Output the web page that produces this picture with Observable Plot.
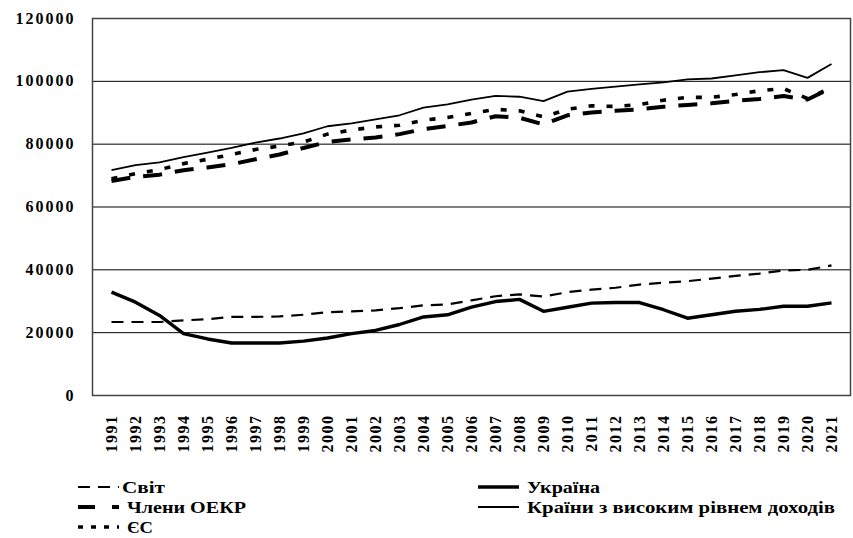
<!DOCTYPE html>
<html><head><meta charset="utf-8">
<script src="https://cdn.jsdelivr.net/npm/d3@7"></script>
<script src="https://cdn.jsdelivr.net/npm/@observablehq/plot@0.6"></script>
<style>
body{margin:0;background:#fff;}
#chart svg{display:block}
</style></head><body><div id="chart"></div>
<script>
const years = [1991,1992,1993,1994,1995,1996,1997,1998,1999,2000,2001,2002,2003,2004,2005,2006,2007,2008,2009,2010,2011,2012,2013,2014,2015,2016,2017,2018,2019,2020,2021];
const yTicks = [0,20000,40000,60000,80000,100000,120000];

const world   = [23400,23400,23400,23900,24300,25000,25000,25200,25700,26500,26800,27100,27800,28700,29000,30300,31600,32200,31500,32900,33700,34300,35300,35900,36400,37200,38100,38800,39800,40000,41400];
const ukraine = [32900,29700,25500,19700,18000,16700,16700,16700,17300,18300,19700,20700,22600,25000,25700,28100,29900,30600,26800,28100,29400,29600,29600,27300,24600,25700,26800,27400,28400,28400,29500];
const oecd    = [68300,69600,70300,71700,72600,73600,75200,76700,78800,80700,81500,82100,83200,84800,85800,86900,88900,88400,86300,89200,90100,90600,91100,91900,92500,93000,93800,94400,95300,94200,97900];
const highIncome = [71700,73300,74200,75900,77300,78800,80500,81800,83400,85700,86600,87900,89200,91600,92700,94200,95400,95100,93700,96700,97600,98300,99000,99700,100600,100900,101900,102900,103600,101100,105500];
const eu      = [69000,70600,71900,73800,75200,76700,78300,79400,80700,83200,84500,85500,86000,87600,88500,89800,91100,90600,88700,91100,92200,92000,92600,94000,94900,94900,95800,97000,97700,94500,98100];

const seriesNames = ["Світ","Україна","Члени ОЕКР","Країни з високим рівнем доходів","ЄС"];

const series = [
  {name: seriesNames[0], values: world,      w: 2.2, dash: "12,8",  legendDash: "12,8"},
  {name: seriesNames[1], values: ukraine,    w: 3.4, dash: null,    legendDash: null},
  {name: seriesNames[2], values: oecd,       w: 4,   dash: "19,13", legendDash: "17,17"},
  {name: seriesNames[3], values: highIncome, w: 1.8, dash: null,    legendDash: null},
  {name: seriesNames[4], values: eu,         w: 3.6, dash: "6,12",  legendDash: "5,8"}
];

const font = "'Liberation Serif', 'Times New Roman', serif";

const plot = Plot.plot({
  width: 853, height: 470,
  marginLeft: 92, marginRight: 3, marginTop: 18, marginBottom: 75,
  style: {fontFamily: font, fontWeight: "bold", fontSize: "16px", color: "#000", background: "#fff"},
  x: {type: "point", domain: years, padding: 0.5},
  y: {domain: [0, 120000]},
  marks: [
    Plot.gridY(yTicks.slice(1, -1), {stroke: "#000", strokeOpacity: 1, strokeWidth: 1}),
    Plot.axisX({tickRotate: -90, tickSize: 0, tickPadding: 19, label: null, tickFormat: d => String(d)}),
    Plot.axisY({ticks: yTicks, tickSize: 0, tickPadding: 17, label: null, tickFormat: d => String(d)}),
    ...series.map(s => Plot.line(years.map((y, i) => ({year: y, value: s.values[i]})), {
      x: "year", y: "value", stroke: "#000", strokeWidth: s.w,
      strokeDasharray: s.dash, strokeLinejoin: "round", strokeLinecap: "butt"
    })),
    Plot.frame({stroke: "#444", strokeWidth: 1.5})
  ]
});
document.getElementById("chart").appendChild(plot);

d3.select(plot).selectAll("text").style("font-family", font);
d3.select(plot).selectAll('g[aria-label="y-axis tick label"] text').style("letter-spacing", "2px");
d3.select(plot).selectAll('g[aria-label="x-axis tick label"] text').style("letter-spacing", "1.5px");

// Legend below the plot
const legend = d3.select("#chart").append("svg")
  .attr("width", 853).attr("height", 68)
  .style("display", "block")
  .style("font-family", font).style("font-weight", "bold").style("font-size", "17px");

const legendItems = [
  {s: series[0], lx: 78,  tx: 122, row: 0, tw: 43},
  {s: series[2], lx: 78,  tx: 127, row: 1, tw: 119},
  {s: series[4], lx: 78,  tx: 127, row: 2, tw: 26},
  {s: series[1], lx: 478, tx: 527, row: 0, tw: 73},
  {s: series[3], lx: 478, tx: 527, row: 1, tw: 308}
];
legendItems.forEach(it => {
  const cy = 17 + it.row * 20;
  legend.append("line")
    .attr("x1", it.lx).attr("x2", it.lx + 41)
    .attr("y1", cy).attr("y2", cy)
    .attr("stroke", "#000").attr("stroke-width", it.s.w)
    .attr("stroke-dasharray", it.s.legendDash);
  legend.append("text")
    .attr("x", it.tx).attr("y", cy).attr("dy", "0.35em")
    .attr("textLength", it.tw).attr("lengthAdjust", "spacingAndGlyphs")
    .text(it.s.name);
});
</script>
</body></html>
